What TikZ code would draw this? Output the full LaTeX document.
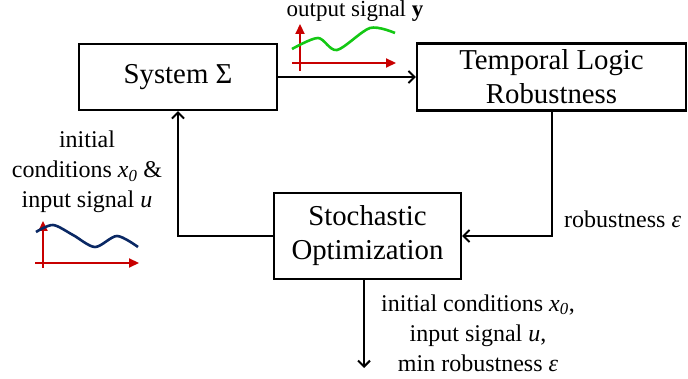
\documentclass[tikz,border=0pt]{standalone}
\usepackage{fontspec}
\setmainfont{Liberation Serif}
\usetikzlibrary{arrows.meta}
\definecolor{sigred}{RGB}{200,0,0}
\definecolor{siggreen}{RGB}{20,200,20}
\definecolor{signavy}{RGB}{10,40,100}
\begin{document}
\begin{tikzpicture}[x=1pt,y=-1pt,
  blockbox/.style={draw=black,line width=2.2pt,inner sep=0pt,align=center,
    font=\fontsize{28.8}{34}\selectfont},
  lbl/.style={inner sep=0pt,align=center,font=\fontsize{24}{30}\selectfont},
  conn/.style={line width=2pt,-{Straight Barb[length=6pt,width=12pt,line width=2pt]}},
  axis/.style={sigred,line width=2.2pt,-{Triangle[length=10pt,width=9pt]}},
  sigline/.style={line width=2.6pt,smooth}
]
\useasboundingbox (0,0) rectangle (688,379);
\node[blockbox,minimum width=198pt,minimum height=66pt] (sys) at (178,77) {System Σ};
\node[blockbox,minimum width=269pt,minimum height=67pt] (tlr) at (551.5,77) {Temporal Logic\\Robustness};
\node[blockbox,minimum width=187pt,minimum height=86pt] (opt) at (367.5,236) {Stochastic\\Optimization};

\coordinate (rcorner) at (552,236);
\coordinate (lcorner) at (178,236);
\coordinate (out) at (364,368);

\draw[conn] (sys.east |- 0,77) -- (tlr.west |- 0,77);
\draw[conn] (tlr.south -| rcorner) -- (rcorner) -- (opt.east);
\draw[conn] (opt.west) -- (lcorner) -- (sys.south);
\draw[conn] (opt.south -| out) -- (out);

\node[lbl,anchor=base,font=\fontsize{23}{28}\selectfont] (outlbl) at (355,16.5) {output signal \textbf{y}};
\node[lbl] (inlbl) at (87,172) {initial\\conditions \textit{x}\textsubscript{\textit{0}} \&\\input signal \textit{u}};
\node[lbl,anchor=base west] (roblbl) at (564,228) {robustness \textit{ε}};
\node[lbl] (reslbl) at (478,333) {initial conditions \textit{x}\textsubscript{\textit{0}},\\input signal \textit{u},\\min robustness \textit{ε}};

% output signal plot
\coordinate (oy0) at (300,71);
\coordinate (oy1) at (300,24);
\coordinate (ox0) at (292,63);
\coordinate (ox1) at (396,63);
\draw[axis] (oy0) -- (oy1);
\draw[axis] (ox0) -- (ox1);
\draw[siggreen,sigline] plot coordinates {(292,49) (318,38) (337,50) (370,28) (395,33)};

% input signal plot
\coordinate (iy0) at (43,268);
\coordinate (iy1) at (43,221);
\coordinate (ix0) at (35,263);
\coordinate (ix1) at (139,263);
\draw[axis] (iy0) -- (iy1);
\draw[axis] (ix0) -- (ix1);
\draw[signavy,sigline] plot coordinates {(36,232) (53,225) (73,235) (95,247) (117,236) (138,247)};
\end{tikzpicture}
\end{document}
